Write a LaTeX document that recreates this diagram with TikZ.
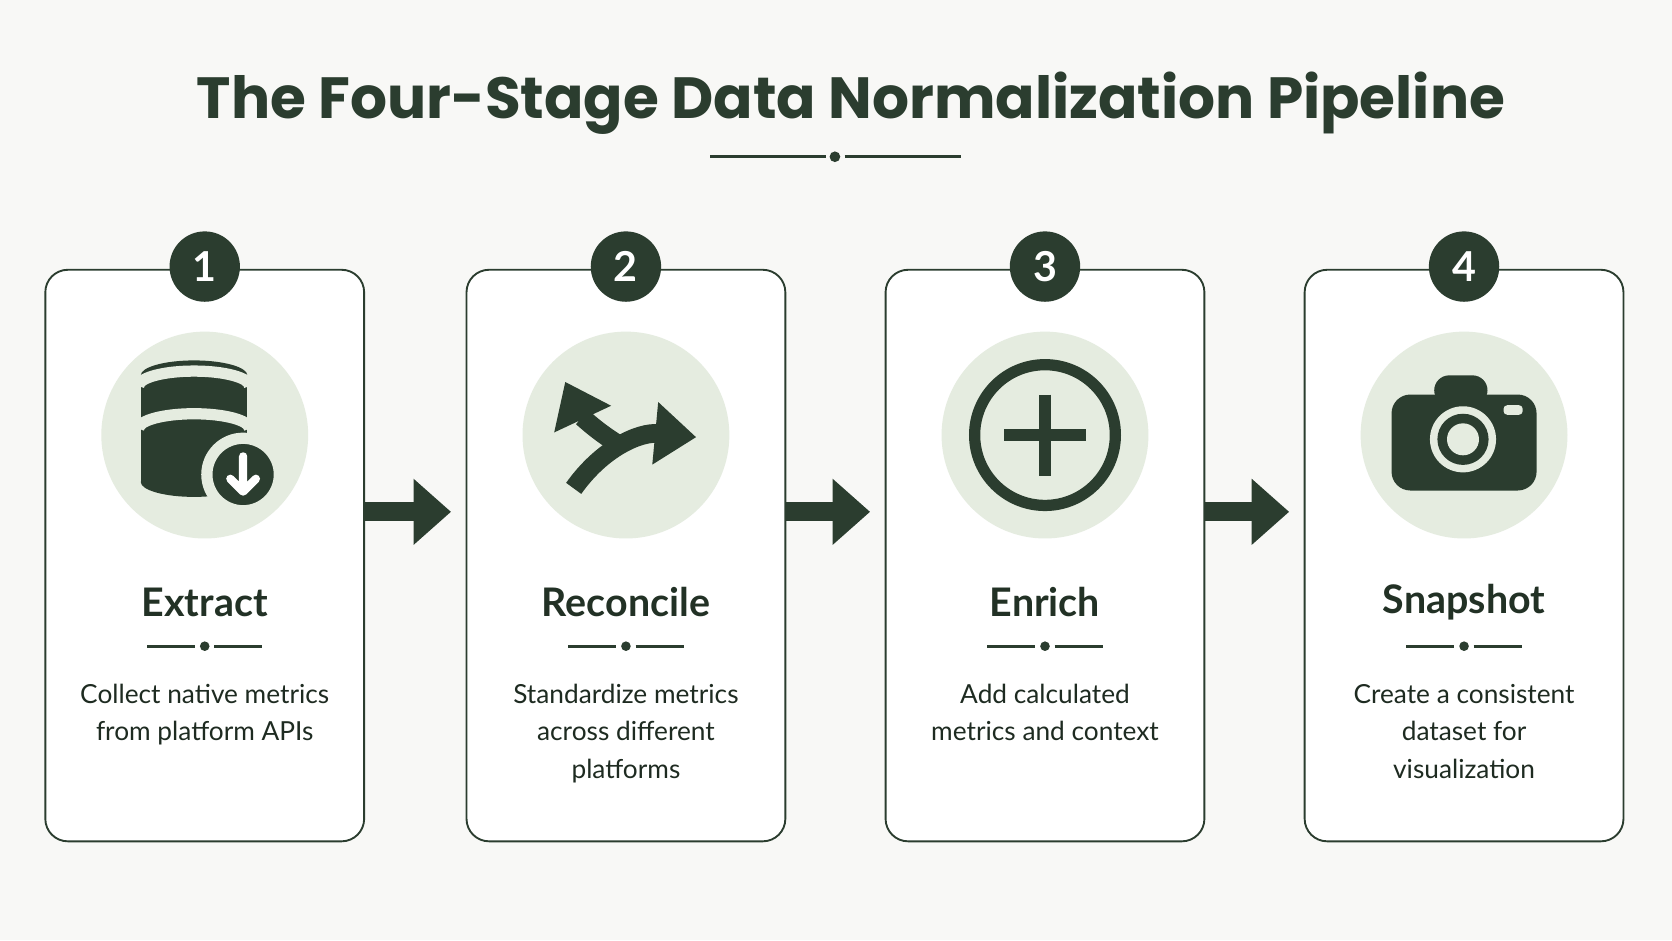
\documentclass[tikz,border=0pt]{standalone}
\usepackage{fontspec}
\setmainfont{Lato}
\newfontfamily\titlefont{Poppins}
\usetikzlibrary{positioning,arrows.meta}
\definecolor{dkgreen}{HTML}{2B3D2F}
\definecolor{ltgreen}{HTML}{E5ECE0}
\definecolor{bgpaper}{HTML}{F8F8F6}
\tikzset{
  card/.style={draw=dkgreen,line width=0.5pt,rounded corners=6pt,fill=white,minimum width=299*0.01cm,minimum height=536*0.01cm},
  badge/.style={circle,fill=dkgreen,text=white,minimum size=66*0.01cm,inner sep=0pt,font=\bfseries\fontsize{11}{11}\selectfont},
  halo/.style={circle,fill=ltgreen,minimum size=194*0.01cm,inner sep=0pt},
  stagename/.style={font=\bfseries\fontsize{10.5}{12}\selectfont,text=dkgreen!80!black},
  blurb/.style={font=\fontsize{7}{10}\selectfont,text=dkgreen!70!black,align=center},
  flow/.style={-{Triangle[length=10pt,width=17pt]},line width=5pt,draw=dkgreen},
  rule/.style={draw=dkgreen,line width=0.7pt}
}
\begin{document}
\begin{tikzpicture}[x=0.01cm,y=-0.01cm]
\fill[bgpaper] (0,0) rectangle (1568,882);
\useasboundingbox (0,0) rectangle (1568,882);
\node[font=\titlefont\bfseries\fontsize{15.5}{16}\selectfont,text=dkgreen] (title) at (798,97) {The Four-Stage Data Normalization Pipeline};
\draw[rule] (666,147) -- (775,147) (792,147) -- (901,147);
\fill[dkgreen] (783,147) circle (5);

\foreach \i/\x/\name/\txt in {1/192/Extract/{Collect native metrics\\from platform APIs},
  2/587/Reconcile/{Standardize metrics\\across different\\platforms},
  3/980/Enrich/{Add calculated\\metrics and context},
  4/1373/Snapshot/{Create a consistent\\dataset for\\visualization}}{
  \node[card] (card\i) at (\x,521) {};
  \coordinate (in\i) at (\x-150,480);
  \coordinate (out\i) at (\x+150,480);
  \node[badge] (num\i) at (\x,250) {\i};
  \node[halo] (icon\i) at (\x,408) {};
  \node[stagename] (name\i) at (\x,565) {\name};
  \draw[rule] (\x-54,606) -- (\x-9,606) (\x+9,606) -- (\x+54,606);
  \fill[dkgreen] (\x,606) circle (4.5);
  \node[blurb,anchor=north] (text\i) at (\x,629) {\txt};
}
\foreach \i/\j in {1/2,2/3,3/4}
  \draw[flow] (out\i) -- ([xshift=-14*0.01cm]in\j);

% database
\begin{scope}[shift={(182,0)}]
\fill[dkgreen] (0,352) ellipse (50 and 14);
\fill[dkgreen] (-50,352) rectangle (50,452);
\fill[dkgreen] (0,452) ellipse (50 and 14);
\draw[ltgreen,line width=3pt] (-52,362) arc (180:360:52 and 14);
\draw[ltgreen,line width=3pt] (-52,402) arc (180:360:52 and 14);
\end{scope}
\fill[dkgreen,draw=ltgreen,line width=3pt] (228,445) circle (34);
\draw[white,line width=2.2pt,line cap=round,line join=round] (228,428) -- (228,460) (216,449) -- (228,461) -- (240,449);
% split arrows
\draw[dkgreen,line width=5pt,-{Triangle[length=11pt,width=16pt]}] (538,458) .. controls (565,420) and (600,405) .. (653,410);
\draw[dkgreen,line width=5pt,-{Triangle[length=11pt,width=16pt]}] (582,418) .. controls (560,405) and (545,390) .. (530,358);
% plus
\draw[dkgreen,line width=3pt] (980,408) circle (66);
\draw[dkgreen,line width=3.4pt] (942,408) -- (1018,408) (980,370) -- (980,446);
% camera
\fill[dkgreen,rounded corners=5pt] (1305,370) rectangle (1441,460);
\fill[dkgreen,rounded corners=4pt] (1345,352) rectangle (1395,380);
\fill[ltgreen] (1372,412) circle (31);
\fill[dkgreen] (1372,412) circle (24);
\fill[ltgreen] (1372,412) circle (15);
\fill[ltgreen,rounded corners=1pt] (1410,380) rectangle (1428,389);
\end{tikzpicture}
\end{document}
